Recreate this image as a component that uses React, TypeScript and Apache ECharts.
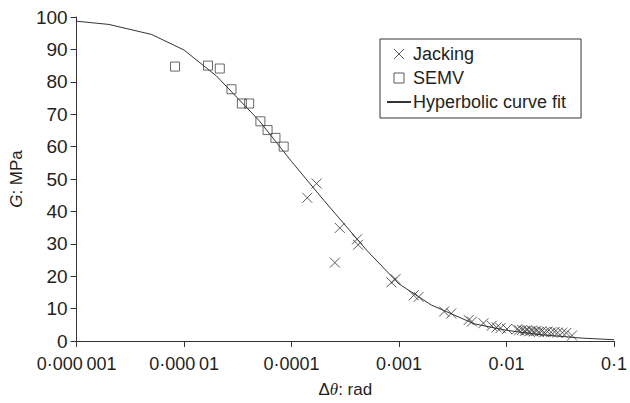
import React, { useEffect, useRef } from "react";
import * as echarts from "echarts";

// Hyperbolic curve fit
const curveX = [1e-6, 2e-6, 5e-6, 1e-5, 2e-5, 5e-5, 1e-4, 2e-4, 5e-4, 1e-3, 2e-3, 5e-3, 1e-2, 2e-2, 5e-2, 1e-1];
const curveG = [98.7, 97.7, 94.6, 89.8, 81.8, 68.0, 55.4, 43.4, 28.0, 17.6, 11.1, 5.3, 3.3, 2.0, 0.9, 0.4];

// SEMV measurements
const semvX = [8.24e-6, 1.67e-5, 2.15e-5, 2.76e-5, 3.45e-5, 4.03e-5, 5.13e-5, 5.98e-5, 7.08e-5, 8.45e-5];
const semvG = [84.7, 85.0, 84.1, 77.7, 73.3, 73.3, 67.8, 65.1, 62.7, 60.0];

// Jacking measurements
const jackX = [
  1.4e-4, 1.71e-4, 2.53e-4, 2.81e-4, 4.07e-4, 4.16e-4, 8.5e-4, 9.27e-4, 1.37e-3, 1.52e-3,
  2.63e-3, 3.06e-3, 4.45e-3, 4.77e-3, 6.1e-3, 7.28e-3, 8.09e-3, 8.8e-3, 1.01e-2, 1.25e-2,
  1.31e-2, 1.4e-2, 1.48e-2, 1.55e-2, 1.63e-2, 1.72e-2, 1.8e-2, 1.9e-2, 2.0e-2, 2.12e-2,
  2.25e-2, 2.4e-2, 2.6e-2, 2.8e-2, 3.0e-2, 3.3e-2, 3.6e-2, 4.07e-2,
];
const jackG = [
  44.2, 48.6, 24.2, 34.9, 31.4, 29.7, 18.1, 19.1, 14.1, 13.6,
  9.1, 8.5, 6.5, 6.0, 5.5, 4.7, 4.2, 4.0, 3.7, 3.6,
  3.3, 3.4, 3.1, 3.3, 3.0, 3.2, 2.9, 3.1, 2.8, 3.0,
  2.7, 2.9, 2.7, 2.8, 2.6, 2.6, 2.5, 1.7,
];

// Tick labels (by decade exponent)
const xTickExps = [-6, -5, -4, -3, -2, -1];
const xTickLabels = ["0·000\u2009001", "0·000\u200901", "0·0001", "0·001", "0·01", "0·1"];

const TEXT = "#231f20";
const INK = "#333";
const FONT = "'Liberation Sans', Arial, sans-serif";
const CROSS = "path://M0 0L10 10M10 0L0 10";
const SQUARE = "path://M0 0H10V10H0Z";

export default function App() {
  const ref = useRef<HTMLDivElement>(null);

  useEffect(() => {
    document.body.style.margin = "0";
    if (!ref.current) return;
    const chart = echarts.init(ref.current, undefined, { renderer: "svg" });

    const labelFor = (v: number) => {
      const e = Math.round(Math.log10(v));
      const i = xTickExps.indexOf(e);
      return i >= 0 ? xTickLabels[i] : "";
    };

    chart.setOption({
      animation: false,
      textStyle: { fontFamily: FONT, color: TEXT },
      grid: { left: 73, right: 11, top: 17, bottom: 55, containLabel: false },
      legend: {
        orient: "vertical",
        left: 380,
        top: 39,
        borderColor: INK,
        borderWidth: 1,
        borderRadius: 0,
        padding: [6, 15, 7, 6],
        itemGap: 6,
        itemWidth: 24,
        itemHeight: 10,
        textStyle: { fontSize: 18, color: TEXT, lineHeight: 17, fontFamily: FONT, padding: [0, 0, 0, -3] },
        data: [
          { name: "Jacking", icon: CROSS, itemStyle: { color: "transparent", borderColor: INK, borderWidth: 1 } },
          { name: "SEMV", icon: SQUARE, itemStyle: { color: "transparent", borderColor: INK, borderWidth: 1 } },
          { name: "Hyperbolic curve fit" },
        ],
      },
      xAxis: {
        type: "log",
        logBase: 10,
        min: 1e-6,
        max: 0.1,
        splitNumber: 5,
        name: "{n|Δ}{i|θ}{n|: rad}",
        nameLocation: "middle",
        nameGap: 40,
        nameTextStyle: {
          rich: {
            n: { fontSize: 17, fontFamily: FONT, color: TEXT },
            i: { fontSize: 17, fontFamily: "'Liberation Serif', serif", fontStyle: "italic", color: TEXT },
          },
        },
        axisLine: { show: true, lineStyle: { color: INK, width: 1 } },
        axisTick: { show: true, length: 6, lineStyle: { color: INK } },
        minorTick: { show: false },
        splitLine: { show: false },
        axisLabel: { fontSize: 18, color: TEXT, margin: 14, fontFamily: FONT, formatter: labelFor },
      },
      yAxis: {
        type: "value",
        min: 0,
        max: 100,
        interval: 10,
        name: "{i|G}{n|: MPa}",
        nameLocation: "middle",
        nameGap: 48,
        nameTextStyle: {
          rich: {
            n: { fontSize: 17, fontFamily: FONT, color: TEXT },
            i: { fontSize: 17, fontFamily: FONT, fontStyle: "italic", color: TEXT },
          },
        },
        axisLine: { show: true, lineStyle: { color: INK, width: 1 } },
        axisTick: { show: true, length: 6, lineStyle: { color: INK } },
        splitLine: { show: false },
        axisLabel: { fontSize: 19, color: TEXT, margin: 9, fontFamily: FONT },
      },
      series: [
        {
          name: "Jacking",
          type: "scatter",
          symbol: CROSS,
          symbolSize: 10,
          itemStyle: { color: "transparent", borderColor: INK, borderWidth: 1 },
          data: jackX.map((x, i) => [x, jackG[i]]),
          z: 3,
        },
        {
          name: "SEMV",
          type: "scatter",
          symbol: "rect",
          symbolSize: 9,
          itemStyle: { color: "transparent", borderColor: "#444", borderWidth: 1 },
          data: semvX.map((x, i) => [x, semvG[i]]),
          z: 3,
        },
        {
          name: "Hyperbolic curve fit",
          type: "line",
          symbol: "none",
          lineStyle: { color: INK, width: 1 },
          itemStyle: { color: "transparent", borderWidth: 0 },
          data: curveX.map((x, i) => [x, curveG[i]]),
          z: 2,
        },
      ],
    });

    return () => chart.dispose();
  }, []);

  return <div ref={ref} style={{ width: 630, height: 403 }} />;
}
